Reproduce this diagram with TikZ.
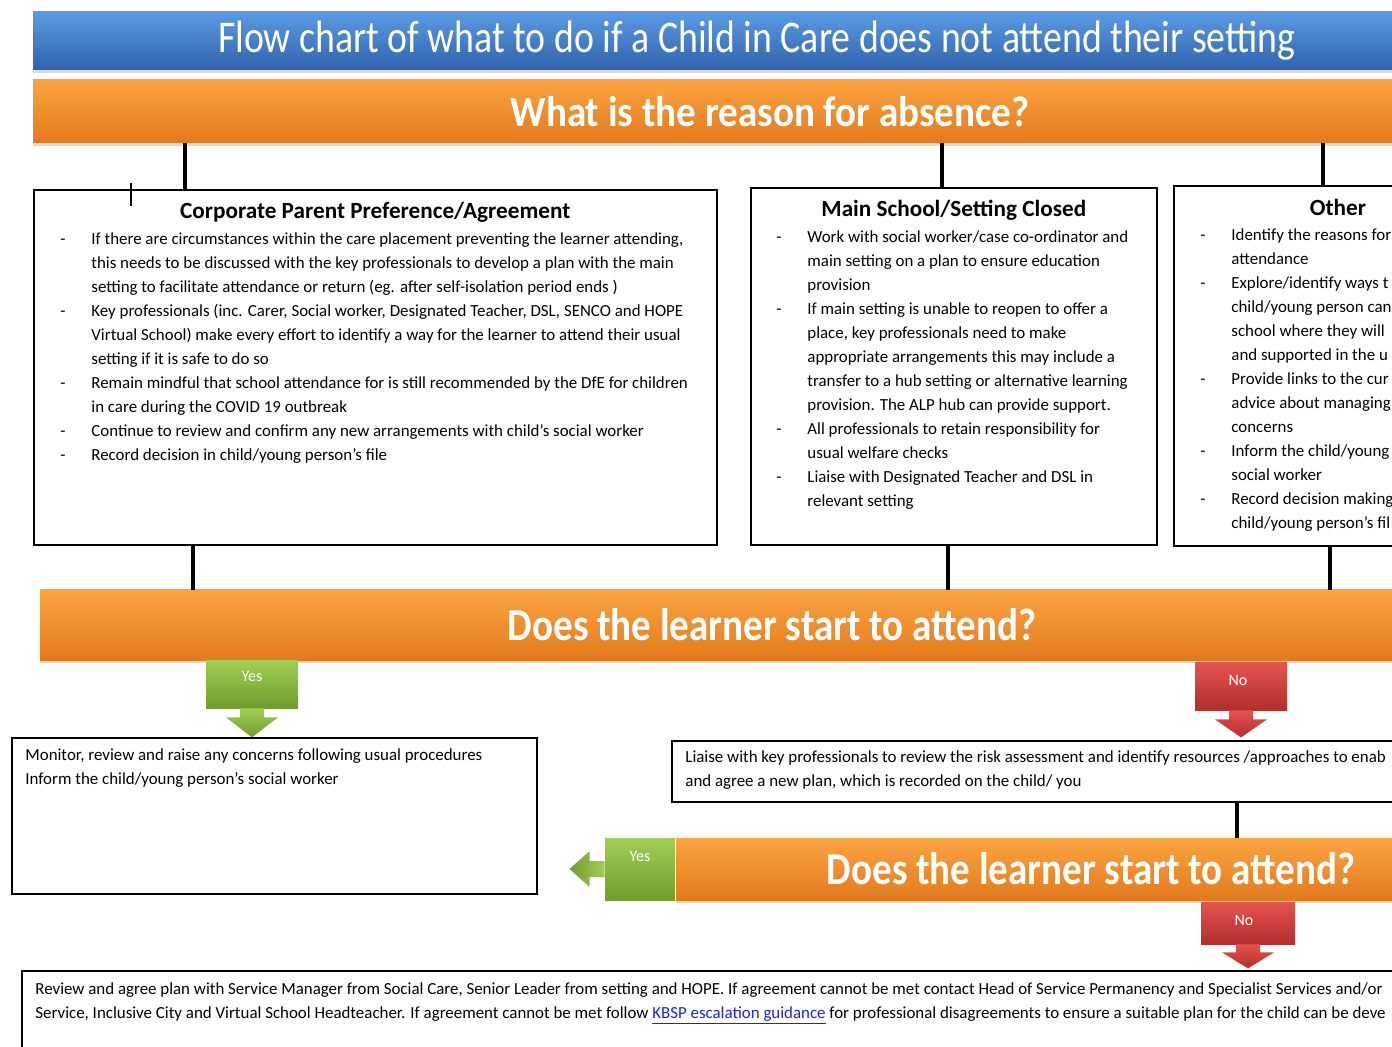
\documentclass[tikz,border=0pt]{standalone}
\usepackage{fontspec}
\setmainfont{Carlito}
\usetikzlibrary{positioning,calc,shadows}

\definecolor{titleTop}{HTML}{5B9AE3}
\definecolor{titleBot}{HTML}{2F64AC}
\definecolor{barTop}{HTML}{FBA441}
\definecolor{barBot}{HTML}{E27A1E}
\definecolor{yesTop}{HTML}{A2CF55}
\definecolor{yesBot}{HTML}{6F9C2D}
\definecolor{noTop}{HTML}{E4544F}
\definecolor{noBot}{HTML}{B32E2C}
\definecolor{linkblue}{HTML}{1F1FE0}

\newcommand{\bl}[1]{\makebox[15.5pt][l]{-}#1}
\newcommand{\cl}[1]{\hspace*{15.5pt}#1}
\newcommand{\tall}[2]{\scalebox{1}[#1]{#2}}

\tikzset{
  bar/.style={top color=barTop, bottom color=barBot, text=white, inner sep=0pt,
    drop shadow={shadow xshift=0pt, shadow yshift=-1.5pt, opacity=0.3},
    font=\bfseries\fontsize{19.5}{22}\selectfont},
  textbox/.style={draw, line width=0.8pt, anchor=north west, inner sep=0pt},
  boxtitle/.style={font=\bfseries\fontsize{11.6}{13}\selectfont},
  boxbody/.style={anchor=north west, align=left, inner sep=0pt,
    font=\fontsize{8.45}{12}\selectfont},
  link/.style={line width=2pt},
  yesbox/.style={top color=yesTop, bottom color=yesBot, inner sep=0pt},
  nobox/.style={top color=noTop, bottom color=noBot, inner sep=0pt},
  ynlabel/.style={text=white, font=\fontsize{8}{9}\selectfont}
}

\begin{document}
\begin{tikzpicture}[x=0.5pt, y=-0.5pt]
  \useasboundingbox (0,0) rectangle (1392,1047);
  \clip (0,0) rectangle (1392,1047);

  % heading bars
  \node[top color=titleTop, bottom color=titleBot, text=white, inner sep=0pt,
    minimum width=724pt, minimum height=29pt,
    drop shadow={shadow xshift=0pt, shadow yshift=-1.5pt, opacity=0.3},
    font=\fontsize{18.9}{20}\selectfont] (title) at (757,41)
    {\tall{1.2}{Flow chart of what to do if a Child in Care does not attend their setting}};
  \node[bar, minimum width=737pt, minimum height=31.5pt] (reason) at (770,111.5)
    {\tall{1.1}{What is the reason for absence?}};

  % reason boxes
  \node[textbox, minimum width=341.5pt, minimum height=177.5pt] (corp) at (33,189) {};
  \node[boxtitle] (corpT) at ($(corp.north)+(0,23)$) {Corporate Parent Preference/Agreement};
  \node[boxbody] (corpB) at ($(corp.north west)+(27,43)$) {%
    \bl{If there are circumstances within the care placement preventing the learner attending,}\\
    \cl{this needs to be discussed with the key professionals to develop a plan with the main}\\
    \cl{setting to facilitate attendance or return (eg. after self-isolation period ends )}\\
    \bl{Key professionals (inc. Carer, Social worker, Designated Teacher, DSL, SENCO and HOPE}\\
    \cl{Virtual School) make every effort to identify a way for the learner to attend their usual}\\
    \cl{setting if it is safe to do so}\\
    \bl{Remain mindful that school attendance for is still recommended by the DfE for children}\\
    \cl{in care during the COVID 19 outbreak}\\
    \bl{Continue to review and confirm any new arrangements with child's social worker}\\
    \bl{Record decision in child/young person's file}};
  \draw[line width=0.6pt] (131,183) -- (131,206) (128,190) -- (134,190);   % cursor mark

  \node[textbox, minimum width=203pt, minimum height=178.5pt] (closed) at (750,187) {};
  \node[boxtitle] (closedT) at ($(closed.north)+(0,23)$) {Main School/Setting Closed};
  \node[boxbody] (closedB) at ($(closed.north west)+(26,43)$) {%
    \bl{Work with social worker/case co-ordinator and}\\
    \cl{main setting on a plan to ensure education}\\
    \cl{provision}\\
    \bl{If main setting is unable to reopen to offer a}\\
    \cl{place, key professionals need to make}\\
    \cl{appropriate arrangements this may include a}\\
    \cl{transfer to a hub setting or alternative learning}\\
    \cl{provision. The ALP hub can provide support.}\\
    \bl{All professionals to retain responsibility for}\\
    \cl{usual welfare checks}\\
    \bl{Liaise with Designated Teacher and DSL in}\\
    \cl{relevant setting}};

  \node[textbox, minimum width=210pt, minimum height=180pt] (other) at (1173,185) {};
  \node[boxtitle] (otherT) at ($(other.north west)+(165,22)$) {Other};
  \node[boxbody] (otherB) at ($(other.north west)+(27,43)$) {%
    \bl{Identify the reasons for}\\
    \cl{attendance}\\
    \bl{Explore/identify ways t}\\
    \cl{child/young person can}\\
    \cl{school where they will}\\
    \cl{and supported in the u}\\
    \bl{Provide links to the cur}\\
    \cl{advice about managing}\\
    \cl{concerns}\\
    \bl{Inform the child/young}\\
    \cl{social worker}\\
    \bl{Record decision making}\\
    \cl{child/young person's fil}};

  \draw[link] (185,0 |- reason.south) -- (185,0 |- corp.north);
  \draw[link] (942,0 |- reason.south) -- (942,0 |- closed.north);
  \draw[link] (1323,0 |- reason.south) -- (1323,0 |- other.north);

  % first decision
  \node[bar, minimum width=732pt, minimum height=35pt] (attend) at (772,625)
    {\tall{1.17}{Does the learner start to attend?}};
  \draw[link] (193,0 |- corp.south) -- (193,0 |- attend.north);
  \draw[link] (948,0 |- closed.south) -- (948,0 |- attend.north);
  \draw[link] (1330,0 |- other.south) -- (1330,0 |- attend.north);

  \node[yesbox, minimum width=46pt, minimum height=24pt] (yes1) at (252,684) {};
  \shade[top color=yesTop, bottom color=yesBot] ($(yes1.south)+(-12,0)$) -- ++(0,9) -- ++(-14,0)
    -- ++(26,20) -- ++(26,-20) -- ++(-14,0) -- ++(0,-9) -- cycle;
  \node[ynlabel] (yes1T) at ($(yes1.north)+(0,17)$) {Yes};

  \node[nobox, minimum width=46pt, minimum height=24pt] (no1) at (1241,686) {};
  \shade[top color=noTop, bottom color=noBot] ($(no1.south)+(-12,0)$) -- ++(0,9) -- ++(-14,0)
    -- ++(26,18) -- ++(26,-18) -- ++(-14,0) -- ++(0,-9) -- cycle;
  \node[ynlabel] (no1T) at ($(no1.north)+(-3,19)$) {No};

  \node[textbox, minimum width=262.5pt, minimum height=78pt] (monitor) at (11,737) {};
  \node[boxbody] (monitorB) at ($(monitor.north west)+(14,11)$) {%
    Monitor, review and raise any concerns following usual procedures\\
    Inform the child/young person's social worker};

  \node[textbox, minimum width=400pt, minimum height=30.5pt] (liaise) at (671,740) {};
  \node[boxbody] (liaiseB) at ($(liaise.north west)+(14,10)$) {%
    Liaise with key professionals to review the risk assessment and identify resources /approaches to enab\\
    and agree a new plan, which is recorded on the child/ you};

  % second decision
  \node[bar, minimum width=415pt, minimum height=31pt] (attend2) at (1091,869)
    {\tall{1.17}{Does the learner start to attend?}};
  \draw[link] (1237,0 |- liaise.south) -- (1237,0 |- attend2.north);

  \node[yesbox, minimum width=35pt, minimum height=31pt] (yes2) at (640,869) {};
  \shade[left color=yesBot, right color=yesTop] ($(yes2.west)+(0,-8)$) -- ++(-15,0) -- ++(0,-10)
    -- ++(-20,18) -- ++(20,18) -- ++(0,-10) -- ++(15,0) -- cycle;
  \node[ynlabel] (yes2T) at ($(yes2.north)+(0,19)$) {Yes};

  \node[nobox, minimum width=47pt, minimum height=21pt] (no2) at (1248,923) {};
  \shade[top color=noTop, bottom color=noBot] ($(no2.south)+(-12,0)$) -- ++(0,8) -- ++(-14,0)
    -- ++(26,16) -- ++(26,-16) -- ++(-14,0) -- ++(0,-8) -- cycle;
  \node[ynlabel] (no2T) at ($(no2.north)+(-4,19)$) {No};

  \node[textbox, minimum width=750pt, minimum height=60pt] (review) at (21,970) {};
  \node[boxbody] (reviewB) at ($(review.north west)+(14,12)$) {%
    Review and agree plan with Service Manager from Social Care, Senior Leader from setting and HOPE. If agreement cannot be met contact Head of Service Permanency and Specialist Services and/or\\
    Service, Inclusive City and Virtual School Headteacher. If agreement cannot be met follow \textcolor{linkblue}{\underline{KBSP escalation guidance}} for professional disagreements to ensure a suitable plan for the child can be deve};
\end{tikzpicture}
\end{document}
